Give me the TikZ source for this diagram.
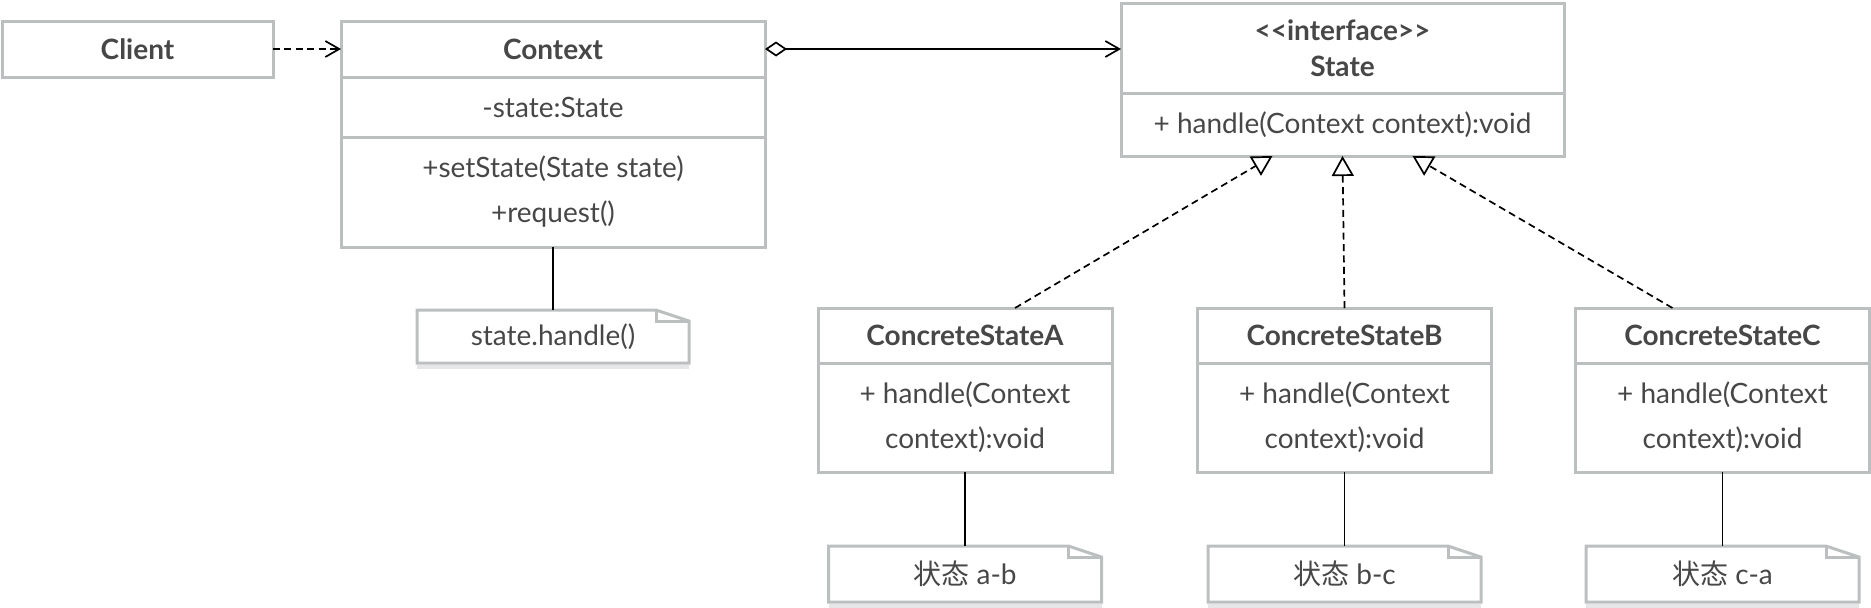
\documentclass[tikz,border=0pt]{standalone}
\usepackage{fontspec}
\setmainfont{Lato}
\newfontfamily\cjk{Noto Sans CJK SC}
\usetikzlibrary{positioning,arrows.meta}
\definecolor{boxgray}{HTML}{BBBFC0}
\definecolor{textgray}{HTML}{474747}
\definecolor{shadowgray}{HTML}{E6E6E6}

\begin{document}
\begin{tikzpicture}[
        classhead/.style={
                rectangle,
                draw=boxgray,
                line width=1.5pt,
                text=textgray,
                font=\fontsize{14}{18}\selectfont\bfseries,
                align=center,
                outer sep=0pt,
                minimum width=147pt,
                minimum height=27.5pt
            },
        classbody/.style={
                classhead,
                font=\fontsize{14}{22.5}\selectfont
            },
        notebox/.style={
                rectangle,
                text=textgray,
                font=\fontsize{14}{16}\selectfont,
                outer sep=0pt,
                minimum width=136.5pt,
                minimum height=28pt
            },
        notefold/.style={draw=boxgray, line width=1.5pt, line join=miter},
        link/.style={line width=0.85pt},
        dashlink/.style={link, dash pattern=on 3.5pt off 2.2pt},
        >={Straight Barb[length=7pt,width=8pt]}
    ]
    \useasboundingbox (0,0) rectangle (935.5pt,-303.5pt);

    \node[classhead, minimum width=135.5pt, minimum height=28pt] (client) at (68.75pt,-24.5pt) {Client};
    \node[classhead, minimum width=212pt, minimum height=28pt] (context) at (276.5pt,-24.5pt) {Context};
    \node[classbody, minimum width=212pt, minimum height=30pt] (contextAttr) [below=0pt of context] {-state:State};
    \node[classbody, minimum width=212pt, minimum height=55pt] (contextOps) [below=0pt of contextAttr] {+setState(State state)\\+request()};
    \node[notebox, minimum width=136pt, minimum height=26.5pt] (contextNote) [below=31.5pt of contextOps] {state.handle()};

    \node[classhead, minimum width=221.5pt, minimum height=45pt] (state) at (671.25pt,-24pt) {<\kern0pt<interface>\kern0pt>\\State};
    \node[classbody, minimum width=221.5pt, minimum height=31.5pt] (stateOps) [below=0pt of state] {+ handle(Context context):void};

    \node[classhead] (stateA) at (482.5pt,-167.75pt) {ConcreteStateA};
    \node[classbody, minimum height=54.5pt] (stateAOps) [below=0pt of stateA] {+ handle(Context\\context):void};
    \node[notebox] (noteA) [below=37pt of stateAOps] {{\cjk 状态} a-b};

    \node[classhead] (stateB) at (672.25pt,-167.75pt) {ConcreteStateB};
    \node[classbody, minimum height=54.5pt] (stateBOps) [below=0pt of stateB] {+ handle(Context\\context):void};
    \node[notebox] (noteB) [below=37pt of stateBOps] {{\cjk 状态} b-c};

    \node[classhead] (stateC) at (861.25pt,-167.75pt) {ConcreteStateC};
    \node[classbody, minimum height=54.5pt] (stateCOps) [below=0pt of stateC] {+ handle(Context\\context):void};
    \node[notebox] (noteC) [below=37pt of stateCOps] {{\cjk 状态} c-a};

    % note outlines with folded corner
    \foreach \n in {contextNote,noteA,noteB,noteC} {
        \fill[shadowgray] ([yshift=-0.75pt]\n.south west) rectangle ([yshift=-2.75pt]\n.south east);
        \draw[notefold] (\n.south west) -- (\n.north west) -- ([xshift=-16.5pt]\n.north east)
            -- ([yshift=-5.5pt]\n.north east) -- (\n.south east) -- cycle;
        \draw[notefold] ([xshift=-16.5pt]\n.north east) |- ([yshift=-5.5pt]\n.north east);
    }

    \draw[dashlink, ->] (client) -- (context);
    \draw[link, {Diamond[open,length=11pt,width=7.5pt]}->] (context.east) -- (context.east -| state.west);
    \draw[dashlink, -{Triangle[open,length=10pt,width=11pt]}] ([xshift=25pt]stateA.north) -- ([xshift=-35pt]stateOps.south);
    \draw[dashlink, -{Triangle[open,length=10pt,width=11pt]}] (stateB.north) -- (stateOps.south);
    \draw[dashlink, -{Triangle[open,length=10pt,width=11pt]}] ([xshift=-25pt]stateC.north) -- ([xshift=35pt]stateOps.south);

    \draw[link] (contextOps) -- (contextNote);
    \draw[link] (stateAOps) -- (noteA);
    \draw[link] (stateBOps) -- (noteB);
    \draw[link] (stateCOps) -- (noteC);
\end{tikzpicture}
\end{document}
